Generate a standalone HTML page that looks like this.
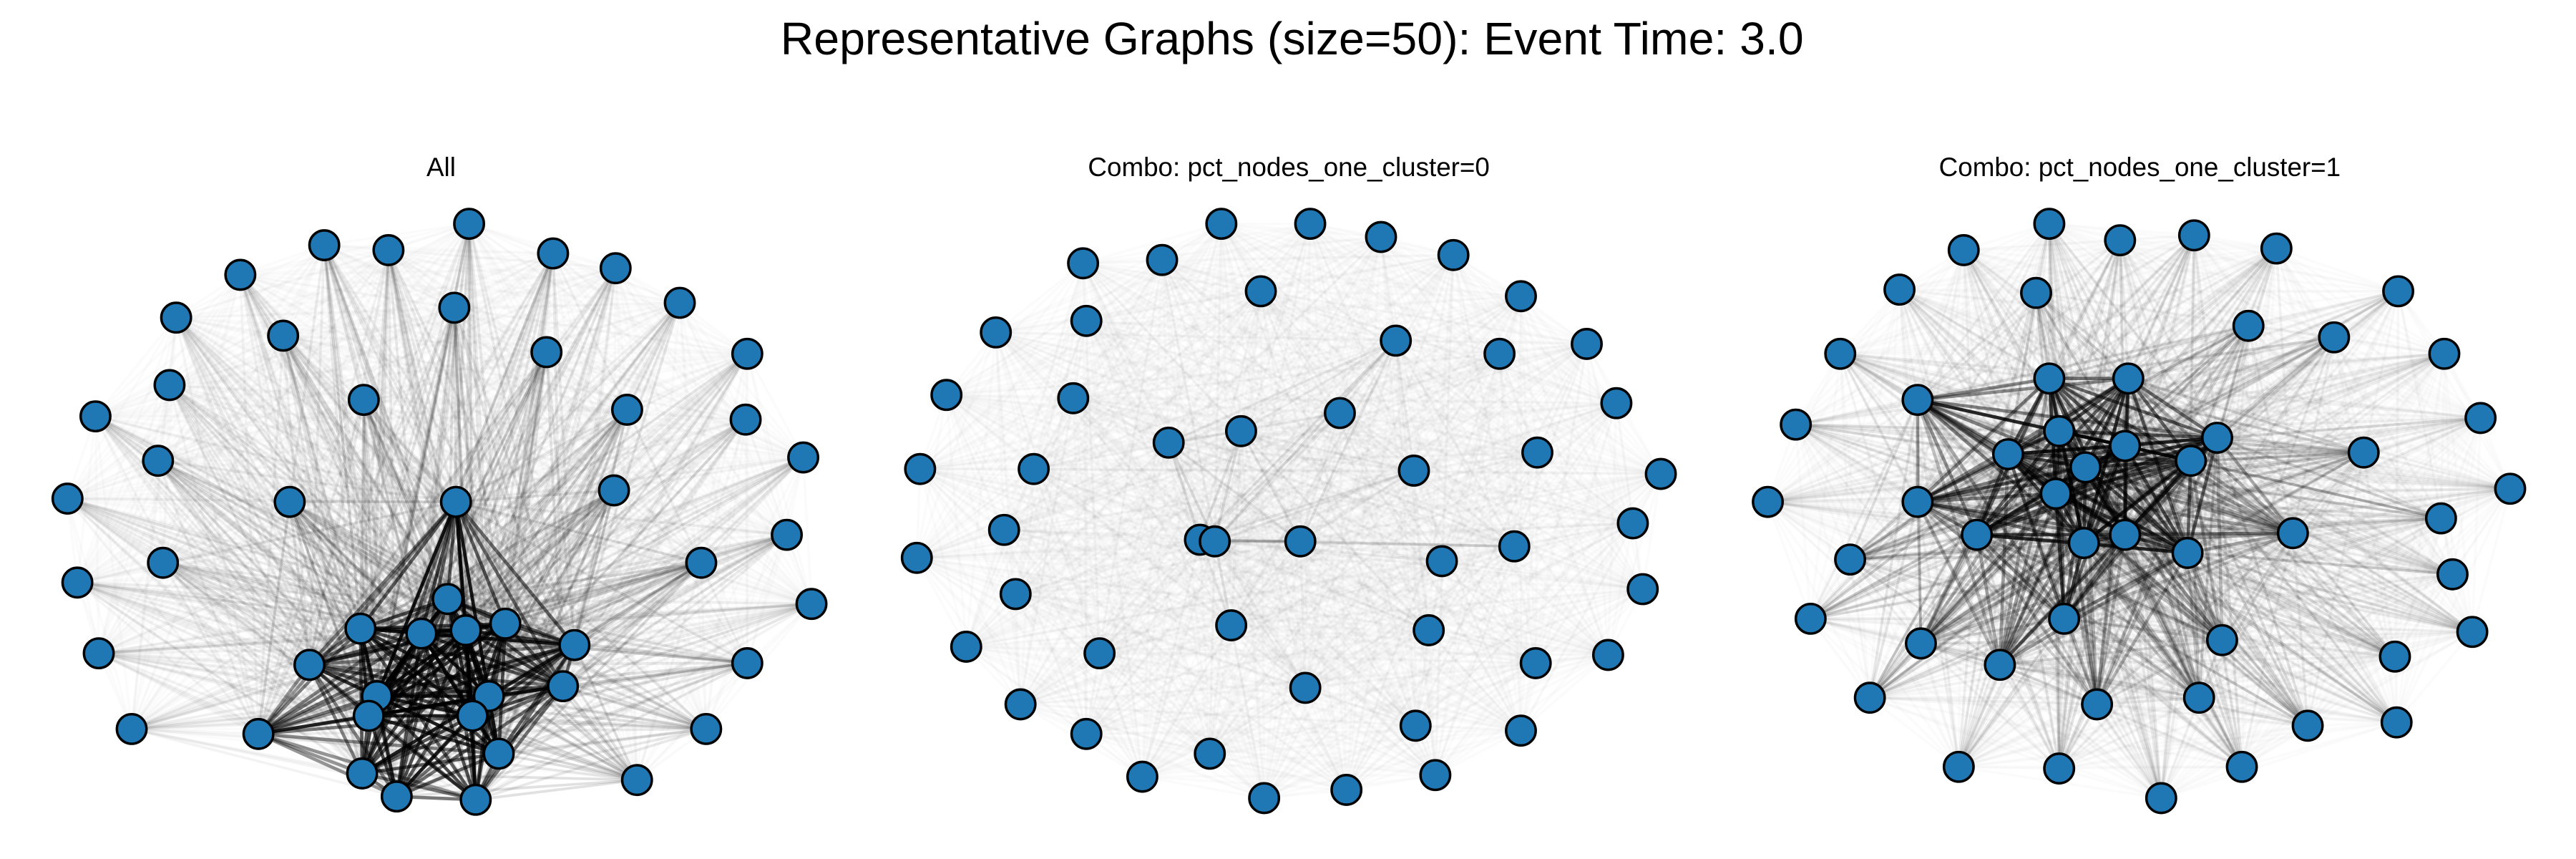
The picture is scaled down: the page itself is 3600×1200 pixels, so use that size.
<!DOCTYPE html>
<html><head><meta charset="utf-8"><style>
html,body{margin:0;padding:0;background:#fff;width:3600px;height:1200px;overflow:hidden}
svg{display:block}
text{font-family:"Liberation Sans","DejaVu Sans",sans-serif;fill:#000}
</style></head><body>
<svg id="chart" width="3600" height="1200" viewBox="0 0 1565 522" preserveAspectRatio="none">
<text x="785" y="33" font-size="28" text-anchor="middle">Representative Graphs (size=50): Event Time: 3.0</text>
<text x="268" y="107" font-size="16" text-anchor="middle">All</text>
<text x="783" y="107" font-size="16" text-anchor="middle">Combo: pct_nodes_one_cluster=0</text>
<text x="1300" y="107" font-size="16" text-anchor="middle">Combo: pct_nodes_one_cluster=1</text>
<g id="g1"></g>
<g id="g2"></g>
<g id="g3"></g>
</svg>
<script>
// node layout coordinates and node weights (edge strength) per graph
const nodes1=[[285,136,.35],[197,149,.35],[236,152,.35],[336,154,.35],[146,167,.3],[374,163,.3],[413,184,.3],[107,193,.3],[276,187,.4],[172,204,.35],[332,214,.4],[454,215,.3],[103,234,.3],[221,243,.4],[381,249,.4],[58,253,.3],[453,255,.3],[96,280,.35],[488,278,.3],[176,305,.45],[277,305,.9],[373,298,.45],[41,303,.3],[478,325,.35],[99,342,.35],[426,342,.45],[47,354,.3],[272,364,.95],[493,367,.3],[219,382,.95],[256,385,1],[283,383,1],[307,379,.95],[349,392,.9],[188,404,.85],[60,397,.3],[454,403,.4],[229,423,1],[297,423,1],[342,417,.9],[224,435,1],[287,435,1],[80,443,.3],[157,446,.8],[429,443,.4],[220,470,.9],[303,458,.95],[241,484,.9],[289,486,.9],[387,474,.45]];
const nodes2=[[742,136,.15],[796,136,.15],[839,144,.15],[883,155,.15],[658,160,.15],[706,158,.15],[766,177,.2],[924,180,.15],[660,195,.2],[605,202,.15],[848,207,.55],[911,215,.15],[964,209,.15],[652,242,.25],[575,240,.15],[814,251,.4],[982,245,.15],[710,269,.55],[754,262,.55],[934,275,.2],[628,285,.2],[559,285,.15],[859,286,.45],[1009,288,.15],[610,322,.2],[729,328,.7],[738,329,.7],[790,329,.65],[920,332,.45],[992,318,.15],[557,339,.15],[876,341,.3],[617,361,.2],[998,358,.15],[748,380,.4],[868,383,.3],[587,393,.15],[668,397,.25],[933,403,.2],[977,398,.15],[793,418,.35],[620,428,.15],[660,446,.2],[860,441,.25],[924,444,.15],[735,458,.2],[694,472,.15],[818,480,.15],[872,471,.15],[768,485,.15]];
const nodes3=[[1245,136,.35],[1288,146,.35],[1333,143,.35],[1383,151,.35],[1193,152,.3],[1154,176,.3],[1457,177,.3],[1237,178,.4],[1366,198,.45],[1418,205,.4],[1118,215,.35],[1485,215,.3],[1245,230,.9],[1293,230,.9],[1165,243,.8],[1507,254,.3],[1091,258,.35],[1251,262,.95],[1220,276,.95],[1291,271,.95],[1347,266,.9],[1331,280,.9],[1436,275,.5],[1267,284,.95],[1525,297,.3],[1249,300,.95],[1165,305,.8],[1074,305,.3],[1483,315,.4],[1201,325,.9],[1291,325,.95],[1266,330,.95],[1329,336,.9],[1393,324,.65],[1124,340,.5],[1490,349,.35],[1254,376,.8],[1100,376,.4],[1167,391,.6],[1350,389,.6],[1502,384,.35],[1215,404,.7],[1455,399,.4],[1136,424,.45],[1274,428,.6],[1336,424,.55],[1402,441,.45],[1456,439,.35],[1190,466,.35],[1251,467,.4],[1313,485,.35],[1362,466,.4]];
const NS='http://www.w3.org/2000/svg';
function draw(gid,nodes){
  const g=document.getElementById(gid);
  const eg=document.createElementNS(NS,'g');
  
  
  g.appendChild(eg);
  for(let i=0;i<nodes.length;i++)for(let j=i+1;j<nodes.length;j++){
    let w=nodes[i][2]*nodes[j][2];
    let op=Math.max(0.015,Math.pow(w,2.2)*0.85);
    const l=document.createElementNS(NS,'line');
    
    
    l.setAttribute('x1',nodes[i][0]);l.setAttribute('y1',nodes[i][1]);
    l.setAttribute('x2',nodes[j][0]);l.setAttribute('y2',nodes[j][1]);
    l.setAttribute('stroke','#000');l.setAttribute('stroke-opacity',op.toFixed(3));
    l.setAttribute('stroke-width',w>0.5?2:1.6);
    eg.appendChild(l);
  }
  nodes.forEach(n=>{
    const c=document.createElementNS(NS,'circle');
    
    
    c.setAttribute('cx',n[0]);c.setAttribute('cy',n[1]);c.setAttribute('r',9);
    c.setAttribute('fill','#1f77b4');c.setAttribute('stroke','#000');c.setAttribute('stroke-width',1.5);
    g.appendChild(c);
  });
}
draw('g1',nodes1);draw('g2',nodes2);draw('g3',nodes3);
</script>
</body></html>
